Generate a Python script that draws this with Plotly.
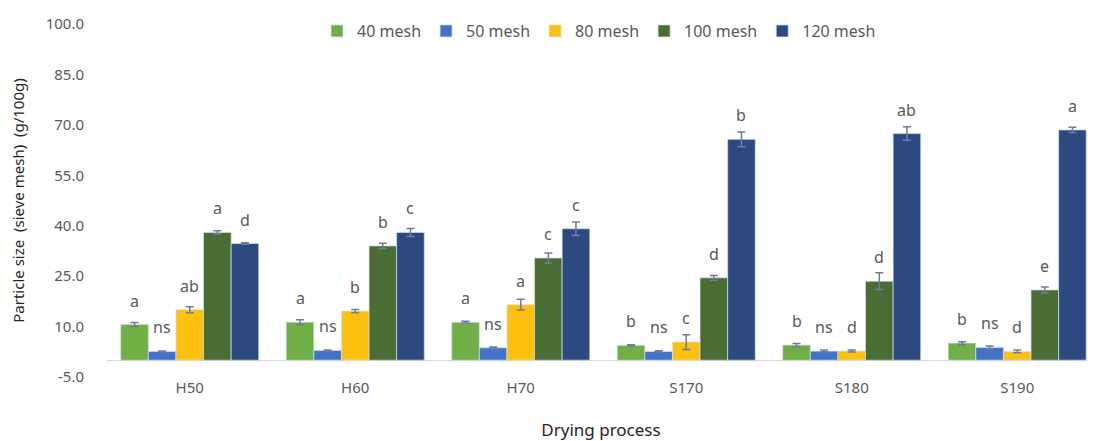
import plotly.graph_objects as go

categories = ["H50", "H60", "H70", "S170", "S180", "S190"]
series_names = ["40 mesh", "50 mesh", "80 mesh", "100 mesh", "120 mesh"]

mesh40 = [10.6, 11.3, 11.3, 4.4, 4.5, 5.1]
mesh40_err = [0.6, 0.7, 0.3, 0.2, 0.5, 0.4]
mesh50 = [2.6, 2.9, 3.7, 2.6, 2.7, 3.8]
mesh50_err = [0.1, 0.1, 0.2, 0.2, 0.3, 0.4]
mesh80 = [15.0, 14.6, 16.5, 5.4, 2.7, 2.6]
mesh80_err = [0.9, 0.5, 1.6, 2.2, 0.3, 0.4]
mesh100 = [38.0, 34.0, 30.4, 24.5, 23.5, 20.9]
mesh100_err = [0.5, 0.8, 1.5, 0.7, 2.5, 0.9]
mesh120 = [34.7, 38.0, 39.1, 65.7, 67.4, 68.5]
mesh120_err = [0.2, 1.2, 2.0, 2.2, 2.0, 0.8]

letters40 = ["a", "a", "a", "b", "b", "b"]
letters50 = ["ns", "ns", "ns", "ns", "ns", "ns"]
letters80 = ["ab", "b", "a", "c", "d", "d"]
letters100 = ["a", "b", "c", "d", "d", "e"]
letters120 = ["d", "c", "c", "b", "ab", "a"]

y_ticks = [-5, 10, 25, 40, 55, 70, 85, 100]
y_tick_labels = ["-5.0", "10.0", "25.0", "40.0", "55.0", "70.0", "85.0", "100.0"]

values = [mesh40, mesh50, mesh80, mesh100, mesh120]
errors = [mesh40_err, mesh50_err, mesh80_err, mesh100_err, mesh120_err]
letters = [letters40, letters50, letters80, letters100, letters120]
colors = ["#6FAF45", "#4373C8", "#FCC10F", "#4A6D34", "#2C4A80"]

FONT = "Noto Sans"
GRAY = "#595959"
BARGAP = 0.166

fig = go.Figure()
for name, vals, errs, col in zip(series_names, values, errors, colors):
    fig.add_trace(go.Bar(
        name=name, x=categories, y=vals,
        marker=dict(color=col, line=dict(color="rgba(215,222,235,0.9)", width=0.8)),
        error_y=dict(type="data", array=errs, visible=True,
                     color="#6E7D9C", thickness=1.5, width=4),
    ))

# significance letters, placed over each bar
n = len(series_names)
w = (1 - BARGAP) / n
annotations = []
for i, (vals, labs) in enumerate(zip(values, letters)):
    for j, (v, t) in enumerate(zip(vals, labs)):
        annotations.append(dict(
            x=j + (i - (n - 1) / 2) * w, y=v, xref="x", yref="y",
            text=t, showarrow=False, yshift=24, yanchor="middle",
            font=dict(family=FONT, size=16, color=GRAY),
        ))

# the page body keeps its default 8px margin, so the figure is sized to fit inside it
fig.update_layout(
    width=1087, height=433,
    margin=dict(l=99, r=0, t=16, b=64, autoexpand=False),
    paper_bgcolor="white", plot_bgcolor="white",
    barmode="group", bargap=BARGAP, bargroupgap=0,
    font=dict(family=FONT, size=15, color=GRAY),
    showlegend=True,
    legend=dict(orientation="h", x=0.498, xanchor="center", y=0.98, yanchor="middle",
                font=dict(family=FONT, size=16, color=GRAY),
                itemwidth=30, bgcolor="rgba(0,0,0,0)", itemclick=False),
    annotations=annotations,
)
fig.update_xaxes(
    type="category", range=[-0.5, 5.47], showline=False, showgrid=False,
    ticks="", automargin=False, tickfont=dict(family=FONT, size=15, color=GRAY),
    title=dict(text="Drying process", font=dict(family=FONT, size=17, color="#262626"), standoff=28),
)
fig.update_yaxes(
    range=[-5, 100], tickvals=y_ticks, ticktext=y_tick_labels,
    showgrid=False, showline=False, ticks="", automargin=False,
    zeroline=True, zerolinecolor="#D9D9D9", zerolinewidth=1.2,
    ticklabelstandoff=22,
    tickfont=dict(family=FONT, size=15, color=GRAY),
    title=dict(text="Particle size\u00a0\u00a0(sieve mesh)\u00a0\u00a0(g/100g)",
               font=dict(family=FONT, size=15, color="#262626"), standoff=18),
)

fig.write_html("out.html")
